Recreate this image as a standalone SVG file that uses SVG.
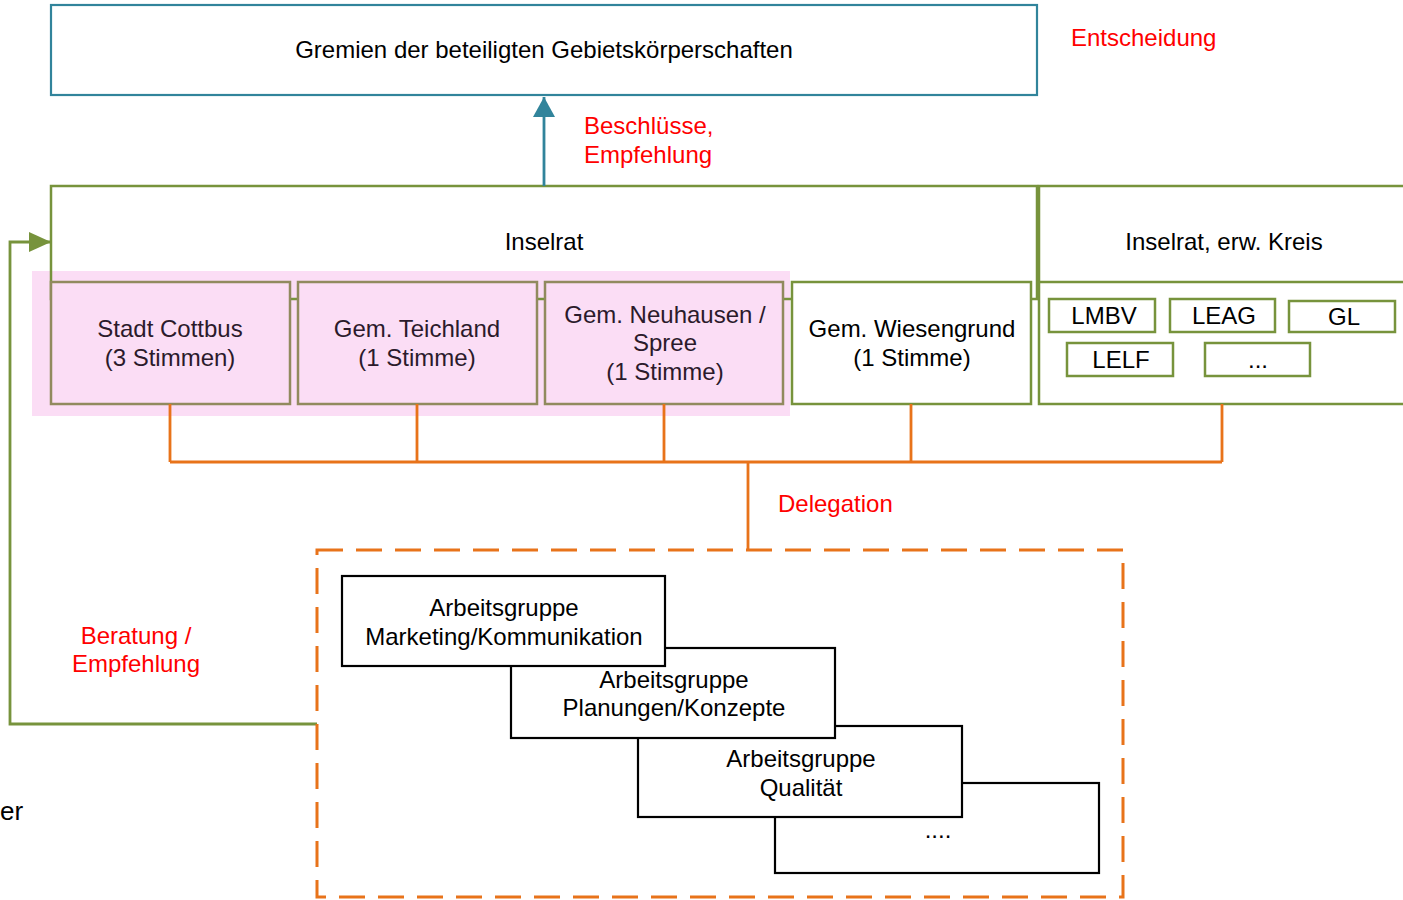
<svg xmlns="http://www.w3.org/2000/svg" width="1403" height="900" viewBox="0 0 1403 900">
<style>
text{font-family:"Liberation Sans",Arial,sans-serif;font-size:24px;fill:#000;text-anchor:middle}
.red{fill:#FF0000;text-anchor:start}
.redm{fill:#FF0000}
.pk{fill:#2B1A2B}
.g{fill:none;stroke:#77933C;stroke-width:2.5}
.gw{fill:#fff;stroke:#77933C;stroke-width:2.5}
.pb{fill:#FBDDF5;stroke:#918A5E;stroke-width:2.5}
.ag{fill:#fff;stroke:#000;stroke-width:2.2}
.or{fill:none;stroke:#E8731A;stroke-width:2.8}
</style>
<defs>
<marker id="at" markerWidth="20" markerHeight="22" refX="20" refY="11" orient="auto" markerUnits="userSpaceOnUse"><path d="M0,0 L20,11 L0,22 Z" fill="#31849B"/></marker>
<marker id="ag" markerWidth="22" markerHeight="20" refX="21" refY="10" orient="auto" markerUnits="userSpaceOnUse"><path d="M0,0 L22,10 L0,20 Z" fill="#77933C"/></marker>
</defs>
<rect width="1403" height="900" fill="#fff"/>

<g id="gremien">
<rect x="51" y="5" width="986" height="90" fill="#fff" stroke="#31849B" stroke-width="2.2"/>
<text x="544" y="58">Gremien der beteiligten Gebietskörperschaften</text>
</g>
<text class="red" x="1071" y="46">Entscheidung</text>
<text class="red" x="584" y="134">Beschlüsse,</text>
<text class="red" x="584" y="163">Empfehlung</text>

<rect x="32" y="271" width="758" height="145" fill="#FBDDF5"/>

<g id="inselrat">
<rect class="g" x="51" y="186" width="986" height="113"/>
<text x="544" y="250">Inselrat</text>
</g>
<g id="inselrat-erw">
<rect class="g" x="1039" y="186" width="400" height="113"/>
<rect class="gw" x="1039" y="282" width="400" height="122"/>
<text x="1224" y="250">Inselrat, erw. Kreis</text>
</g>

<g id="cottbus">
<rect class="pb" x="51" y="282" width="239" height="122"/>
<text class="pk" x="170" y="337">Stadt Cottbus</text>
<text class="pk" x="170" y="366">(3 Stimmen)</text>
</g>
<g id="teichland">
<rect class="pb" x="298" y="282" width="239" height="122"/>
<text class="pk" x="417" y="337">Gem. Teichland</text>
<text class="pk" x="417" y="366">(1 Stimme)</text>
</g>
<g id="neuhausen">
<rect class="pb" x="545" y="282" width="238" height="122"/>
<text class="pk" x="665" y="323">Gem. Neuhausen /</text>
<text class="pk" x="665" y="351">Spree</text>
<text class="pk" x="665" y="380">(1 Stimme)</text>
</g>
<g id="wiesengrund">
<rect class="gw" x="792" y="282" width="239" height="122"/>
<text x="912" y="337">Gem. Wiesengrund</text>
<text x="912" y="366">(1 Stimme)</text>
</g>

<g id="lmbv"><rect class="gw" x="1049" y="299" width="106" height="33"/><text x="1104" y="324">LMBV</text></g>
<g id="leag"><rect class="gw" x="1170" y="299" width="105" height="33"/><text x="1224" y="324">LEAG</text></g>
<g id="gl"><rect class="gw" x="1289" y="301" width="106" height="31"/><text x="1344" y="325">GL</text></g>
<g id="lelf"><rect class="gw" x="1067" y="343" width="106" height="33"/><text x="1121" y="368">LELF</text></g>
<g id="more"><rect class="gw" x="1205" y="343" width="105" height="33"/><text x="1258" y="368">...</text></g>

<g id="connectors">
<line x1="544" y1="186" x2="544" y2="97" stroke="#31849B" stroke-width="2.8" marker-end="url(#at)"/>
<path class="or" d="M170,404 V462 M417,404 V462 M664,404 V462 M911,404 V462 M1222,404 V462 M170,462 H1222 M748,462 V550"/>
<path d="M317,724 H10 V242 H50" fill="none" stroke="#77933C" stroke-width="2.8" marker-end="url(#ag)"/>
</g>
<text class="red" x="778" y="512">Delegation</text>
<text class="redm" x="136" y="644">Beratung /</text>
<text class="redm" x="136" y="672">Empfehlung</text>
<text x="0" y="820" style="text-anchor:start;font-size:26px">er</text>

<g id="arbeitsgruppen">
<rect x="317" y="550" width="806" height="347" fill="none" stroke="#E8731A" stroke-width="3" stroke-dasharray="26,13"/>
<g id="ag4"><rect class="ag" x="775" y="783" width="324" height="90"/><text x="938" y="838">....</text></g>
<g id="ag3"><rect class="ag" x="638" y="726" width="324" height="91"/><text x="801" y="767">Arbeitsgruppe</text><text x="801" y="796">Qualität</text></g>
<g id="ag2"><rect class="ag" x="511" y="648" width="324" height="90"/><text x="674" y="688">Arbeitsgruppe</text><text x="674" y="716">Planungen/Konzepte</text></g>
<g id="ag1"><rect class="ag" x="342" y="576" width="323" height="90"/><text x="504" y="616">Arbeitsgruppe</text><text x="504" y="645">Marketing/Kommunikation</text></g>
</g>
</svg>
